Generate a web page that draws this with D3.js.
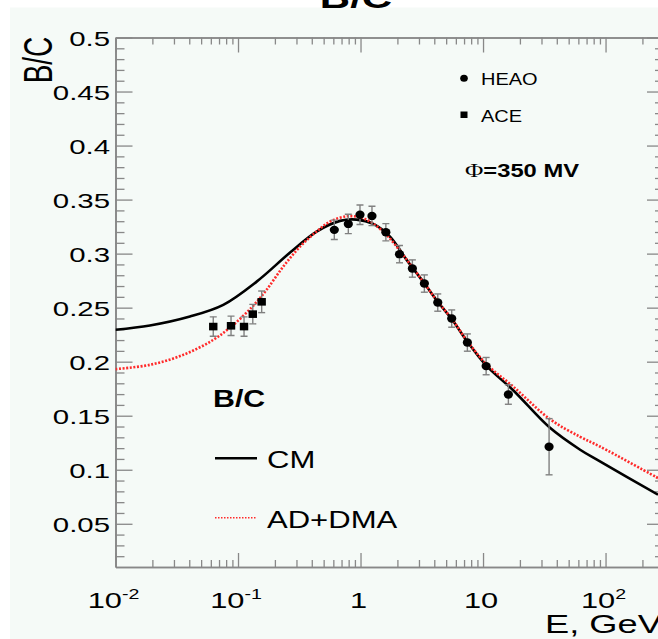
<!DOCTYPE html>
<html>
<head>
<meta charset="utf-8">
<script src="https://cdn.jsdelivr.net/npm/d3@7"></script>
<style>
  html, body { margin: 0; padding: 0; background: #ffffff; }
  svg { display: block; }
  text { font-family: "Liberation Sans", Arial, Helvetica, sans-serif; fill: #000; }
</style>
</head>
<body>
<div id="chart"></div>
<script>
// ---------------- DATA ----------------
// CM model curve (energy in GeV, B/C ratio)
const cmE = [0.01, 0.0191, 0.0405, 0.0758, 0.142, 0.266, 0.438, 0.68, 0.93, 1.27, 1.74, 2.38, 3.32, 4.27, 5.55, 7.45, 10.6, 17.7, 35, 62, 90, 268];
const cmV = [0.2295, 0.2335, 0.2418, 0.2526, 0.2741, 0.301, 0.3204, 0.3303, 0.3315, 0.3275, 0.3158, 0.2942, 0.2725, 0.2555, 0.2395, 0.2185, 0.1965, 0.1733, 0.139, 0.1185, 0.1077, 0.0769];
// AD+DMA model curve
const adE = [0.01, 0.0191, 0.0357, 0.0628, 0.0916, 0.133, 0.171, 0.234, 0.321, 0.438, 0.563, 0.77, 1.05, 1.53, 2.38, 3.32, 4.27, 5.55, 7.45, 10.6, 17.7, 35, 62, 90, 268];
const adV = [0.1931, 0.1971, 0.2063, 0.2202, 0.2341, 0.2517, 0.2665, 0.288, 0.3065, 0.3204, 0.3296, 0.3345, 0.3328, 0.3204, 0.2945, 0.2725, 0.2555, 0.2398, 0.219, 0.198, 0.1768, 0.147, 0.1305, 0.1215, 0.0923];
// HEAO data
const heaoE = [0.611, 0.795, 0.99, 1.24, 1.61, 2.08, 2.65, 3.32, 4.27, 5.55, 7.45, 10.6, 16.1, 34.6];
const heaoV = [0.322, 0.3275, 0.336, 0.3349, 0.3198, 0.2995, 0.2862, 0.2723, 0.2547, 0.2399, 0.2177, 0.1959, 0.1696, 0.1213];
const heaoErr = [0.009, 0.009, 0.009, 0.009, 0.008, 0.008, 0.008, 0.008, 0.008, 0.008, 0.008, 0.008, 0.009, 0.026];
// ACE data
const aceE = [0.0628, 0.0877, 0.112, 0.132, 0.156];
const aceV = [0.2325, 0.2332, 0.2325, 0.244, 0.2554];
const aceErr = [0.009, 0.009, 0.009, 0.009, 0.01];
// Axis ticks
const yTicks = [0.05, 0.1, 0.15, 0.2, 0.25, 0.3, 0.35, 0.4, 0.45, 0.5];
const yTickLabels = ["0.05", "0.1", "0.15", "0.2", "0.25", "0.3", "0.35", "0.4", "0.45", "0.5"];
const xTicks = [0.01, 0.1, 1, 10, 100];
const xTickBase = ["10", "10", "1", "10", "10"];
const xTickExp = ["-2", "-1", "", "", "2"];

// ---------------- CHART ----------------
const W = 658, H = 639;
const L = 115.5, R = 664, T = 37.5, B = 567;
const svg = d3.select("#chart").append("svg").attr("width", W).attr("height", H);

// panel background
svg.append("rect").attr("x", 10).attr("y", 7.5).attr("width", W - 10).attr("height", H - 7.5).attr("fill", "#f5faf7");

const x = d3.scaleLog().domain([0.01, 300]).range([L, R]);
const y = d3.scaleLinear().domain([0.01, 0.5]).range([B, T]);

// helper for horizontally stretched text
function label(parent, px, py, sx, opts) {
  const g = parent.append("g").attr("transform", `translate(${px},${py}) scale(${sx},1)` + (opts.rotate ? ` rotate(${opts.rotate})` : ""));
  const t = g.append("text")
    .attr("font-size", opts.size)
    .attr("text-anchor", opts.anchor || "start")
    .attr("font-weight", opts.bold ? "bold" : "normal");
  return t;
}

// title (clipped at top)
label(svg, 356, 7.5, 1.4, {size: 30, bold: true, anchor: "middle"}).text("B/C");

// ----- axes -----
const axisColor = "#888888";
const minorX = [];
for (let d = -2; d <= 2; d++) for (let m = 2; m <= 9; m++) { const v = m * Math.pow(10, d); if (v <= 300) minorX.push(v); }
const minorY = d3.range(2, 50).map(i => i / 100).filter(v => Math.abs(v * 20 - Math.round(v * 20)) > 1e-6);

function styleAxis(g) {
  g.selectAll("path.domain").attr("stroke", axisColor).attr("stroke-width", 1.6);
  g.selectAll(".tick line").attr("stroke", axisColor).attr("stroke-width", 1.3);
  g.selectAll(".tick text").remove();
}

// bottom
svg.append("g").attr("transform", `translate(0,${B})`)
  .call(d3.axisTop(x).tickValues(xTicks).tickSize(14).tickSizeOuter(0).tickFormat("")).call(styleAxis);
svg.append("g").attr("transform", `translate(0,${B})`)
  .call(d3.axisTop(x).tickValues(minorX).tickSize(7).tickSizeOuter(0).tickFormat("")).call(styleAxis);
// top
svg.append("g").attr("transform", `translate(0,${T})`)
  .call(d3.axisBottom(x).tickValues(xTicks).tickSize(15).tickSizeOuter(0).tickFormat("")).call(styleAxis);
svg.append("g").attr("transform", `translate(0,${T})`)
  .call(d3.axisBottom(x).tickValues(minorX).tickSize(7).tickSizeOuter(0).tickFormat("")).call(styleAxis);
// left
svg.append("g").attr("transform", `translate(${L},0)`)
  .call(d3.axisRight(y).tickValues(yTicks).tickSize(17).tickSizeOuter(0).tickFormat("")).call(styleAxis);
svg.append("g").attr("transform", `translate(${L},0)`)
  .call(d3.axisRight(y).tickValues(minorY).tickSize(9).tickSizeOuter(0).tickFormat("")).call(styleAxis);
// right
svg.append("g").attr("transform", `translate(${R},0)`)
  .call(d3.axisLeft(y).tickValues(yTicks).tickSize(17).tickSizeOuter(0).tickFormat("")).call(styleAxis);
svg.append("g").attr("transform", `translate(${R},0)`)
  .call(d3.axisLeft(y).tickValues(minorY).tickSize(9).tickSizeOuter(0).tickFormat("")).call(styleAxis);

// y tick labels
yTicks.forEach((v, i) => {
  label(svg, 110, y(v) + 8, 1.4, {size: 21, anchor: "end"}).text(yTickLabels[i]);
});
// x tick labels
xTicks.forEach((v, i) => {
  const t = label(svg, x(v) - 2, 608, 1.4, {size: 22, anchor: "middle"});
  t.append("tspan").text(xTickBase[i]);
  if (xTickExp[i]) t.append("tspan").attr("font-size", 14).attr("dy", -9).text(xTickExp[i]);
});

// axis titles
label(svg, 52, 60, 1.42, {size: 28, anchor: "middle", rotate: -90}).text("B/C");
label(svg, 545, 633, 1.45, {size: 25}).text("E, GeV");

// ----- curves -----
svg.append("clipPath").attr("id", "plotclip").append("rect")
  .attr("x", L).attr("y", T).attr("width", R - L).attr("height", B - T);
const plot = svg.append("g").attr("clip-path", "url(#plotclip)");

const line = d3.line().x(d => x(d[0])).y(d => y(d[1])).curve(d3.curveCatmullRom.alpha(0.5));
plot.append("path").datum(cmE.map((e, i) => [e, cmV[i]]))
  .attr("d", line).attr("fill", "none").attr("stroke", "#000").attr("stroke-width", 2.6);
plot.append("path").datum(adE.map((e, i) => [e, adV[i]]))
  .attr("d", line).attr("fill", "none").attr("stroke", "#ff2a2a").attr("stroke-width", 2.6).attr("stroke-dasharray", "2,1.6");

// ----- data points -----
const errColor = "#808080";
function errBars(E, V, Err) {
  const g = plot.append("g");
  E.forEach((e, i) => {
    const cx = x(e), y1 = y(V[i] + Err[i]), y2 = y(V[i] - Err[i]);
    g.append("line").attr("x1", cx).attr("x2", cx).attr("y1", y1).attr("y2", y2).attr("stroke", errColor).attr("stroke-width", 1.4);
    [y1, y2].forEach(yy => g.append("line").attr("x1", cx - 3.5).attr("x2", cx + 3.5).attr("y1", yy).attr("y2", yy).attr("stroke", errColor).attr("stroke-width", 1.4));
  });
}
errBars(heaoE, heaoV, heaoErr);
errBars(aceE, aceV, aceErr);

plot.append("g").selectAll("ellipse").data(heaoE.map((e, i) => [e, heaoV[i]])).join("ellipse")
  .attr("cx", d => x(d[0])).attr("cy", d => y(d[1])).attr("rx", 4.6).attr("ry", 4.2).attr("fill", "#000");
plot.append("g").selectAll("rect").data(aceE.map((e, i) => [e, aceV[i]])).join("rect")
  .attr("x", d => x(d[0]) - 4.2).attr("y", d => y(d[1]) - 3.8).attr("width", 8.4).attr("height", 7.6).attr("fill", "#000");

// ----- legends -----
svg.append("ellipse").attr("cx", 464).attr("cy", 78.3).attr("rx", 3.8).attr("ry", 3.5).attr("fill", "#000");
label(svg, 481, 85, 1.25, {size: 16}).text("HEAO");
svg.append("rect").attr("x", 460.5).attr("y", 111.5).attr("width", 7).attr("height", 6.5).attr("fill", "#000");
label(svg, 481, 121.5, 1.25, {size: 16}).text("ACE");
const phi = label(svg, 465, 176.5, 1.32, {size: 18, bold: true});
phi.append("tspan").attr("font-family", "'Liberation Serif', serif").attr("font-weight", "normal").attr("font-size", 19).text("Φ");
phi.append("tspan").text("=350 MV");

label(svg, 213, 406.5, 1.32, {size: 23, bold: true}).text("B/C");
svg.append("line").attr("x1", 215).attr("x2", 257).attr("y1", 458.3).attr("y2", 458.3).attr("stroke", "#000").attr("stroke-width", 2.4);
label(svg, 267, 468, 1.35, {size: 23}).text("CM");
svg.append("line").attr("x1", 215).attr("x2", 257).attr("y1", 517.7).attr("y2", 517.7).attr("stroke", "#ff2a2a").attr("stroke-width", 1.5).attr("stroke-dasharray", "1.5,1.5");
label(svg, 267, 528, 1.35, {size: 23}).text("AD+DMA");
</script>
</body>
</html>
